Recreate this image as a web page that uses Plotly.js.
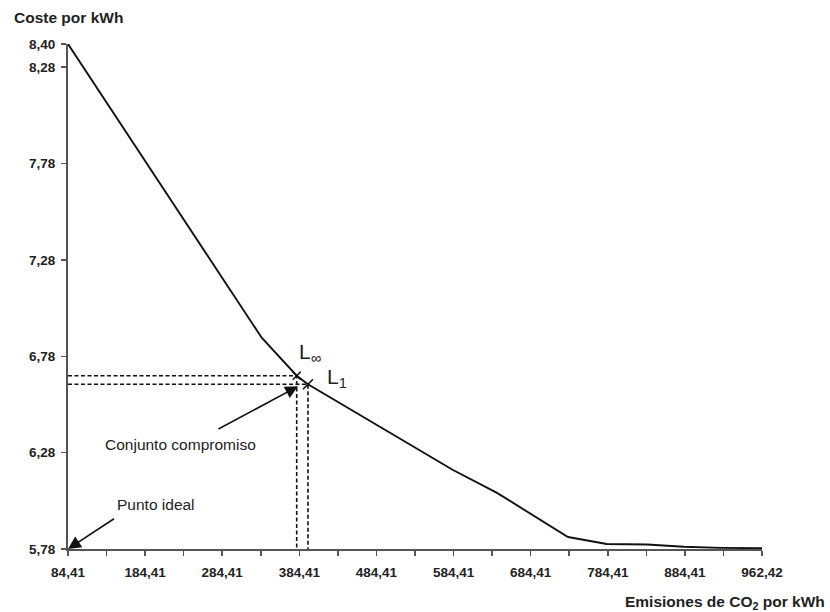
<!DOCTYPE html>
<html>
<head>
<meta charset="utf-8">
<script src="https://cdn.plot.ly/plotly-3.0.1.min.js"></script>
<style>html,body{margin:0;padding:0;background:#fff;}#chart{width:830px;height:612px;}</style>
</head>
<body>
<div id="chart"></div>
<script>
// Frontier curve (emissions vs cost)
const emisiones = [84.41, 335.6, 381.0, 395.6, 583.7, 640.8, 732.8, 783.0, 835.3, 883.0, 931.0, 984.41];
const coste     = [8.40, 6.876, 6.679, 6.635, 6.190, 6.071, 5.842, 5.806, 5.803, 5.792, 5.786, 5.784];

// Compromise set points
const puntoLinf = [381.0, 6.679];
const puntoL1   = [395.6, 6.635];
const puntoIdeal = [84.41, 5.78];

// Axis ticks
const xTickVals = [84.41, 134.41, 184.41, 234.41, 284.41, 334.41, 384.41, 434.41, 484.41, 534.41,
                   584.41, 634.41, 684.41, 734.41, 784.41, 834.41, 884.41, 934.41, 984.41];
const xTickText = ["84,41", "", "184,41", "", "284,41", "", "384,41", "", "484,41", "",
                   "584,41", "", "684,41", "", "784,41", "", "884,41", "", "962,42"];
const yTickVals = [5.78, 6.28, 6.78, 7.28, 7.78, 8.28, 8.40];
const yTickText = ["5,78", "6,28", "6,78", "7,28", "7,78", "8,28", "8,40"];

const xMin = 84.41, xMax = 984.41, yMin = 5.78, yMax = 8.40;
const FONT = '"Liberation Sans", Arial, sans-serif';
const INK = '#222';

function dashTrace(p) {
  return {
    x: [xMin, p[0], p[0]], y: [p[1], p[1], yMin],
    mode: 'lines', line: {color: '#111', width: 1.6, dash: '4px,2.5px'},
    hoverinfo: 'skip', showlegend: false, cliponaxis: false
  };
}

const traces = [
  dashTrace(puntoLinf),
  dashTrace(puntoL1),
  {
    x: emisiones, y: coste, mode: 'lines',
    line: {color: '#111', width: 1.9},
    showlegend: false, cliponaxis: false
  },
  {
    x: [puntoLinf[0]], y: [puntoLinf[1]], mode: 'markers',
    marker: {symbol: 'x-thin', size: 8, line: {color: '#111', width: 1.6}},
    showlegend: false, cliponaxis: false
  },
  {
    x: [puntoL1[0]], y: [puntoL1[1]], mode: 'markers',
    marker: {symbol: 'line-ne', size: 10, line: {color: '#111', width: 1.6}},
    showlegend: false, cliponaxis: false
  }
];

const layout = {
  width: 830, height: 612,
  margin: {l: 68, r: 68, t: 44, b: 63},
  paper_bgcolor: '#fff', plot_bgcolor: '#fff',
  font: {family: FONT, color: INK},
  showlegend: false,
  xaxis: {
    range: [xMin, xMax], showgrid: false, zeroline: false,
    showline: true, linecolor: '#555', linewidth: 2,
    tickmode: 'array', tickvals: xTickVals, ticktext: xTickText,
    ticks: 'outside', ticklen: 5, tickwidth: 1.5, tickcolor: '#555',
    tickfont: {family: FONT, size: 13.5, color: INK, weight: 'bold'},
    ticklabelstandoff: 5
  },
  yaxis: {
    range: [yMin, yMax], showgrid: false, zeroline: false,
    showline: true, linecolor: '#555', linewidth: 2,
    tickmode: 'array', tickvals: yTickVals, ticktext: yTickText,
    ticks: 'outside', ticklen: 5, tickwidth: 1.5, tickcolor: '#555',
    tickfont: {family: FONT, size: 13.5, color: INK, weight: 'bold'},
    ticklabelstandoff: 3
  },
  annotations: [
    {xref: 'paper', yref: 'paper', x: -0.0807, y: 1.0515, xanchor: 'left', yanchor: 'middle',
     text: '<b>Coste por kWh</b>', showarrow: false, font: {size: 15.5, color: INK}},
    {xref: 'paper', yref: 'paper', x: 1.0937, y: -0.105, xanchor: 'right', yanchor: 'middle',
     text: '<b>Emisiones de CO<sub>2</sub> por kWh</b>', showarrow: false, font: {size: 15.5, color: INK}},
    {x: puntoLinf[0], y: puntoLinf[1], xref: 'x', yref: 'y', text: 'L<sub>∞</sub>',
     showarrow: false, xanchor: 'left', yanchor: 'bottom', xshift: 0, yshift: 8,
     font: {size: 21, color: INK}},
    {x: puntoL1[0], y: puntoL1[1], xref: 'x', yref: 'y', text: 'L<sub>1</sub>',
     showarrow: false, xanchor: 'left', yanchor: 'bottom', xshift: 17, yshift: -9,
     font: {size: 21, color: INK}},
    {x: 382.7, y: 6.624, ax: 277.6, ay: 6.398, xref: 'x', yref: 'y', axref: 'x', ayref: 'y',
     text: '', showarrow: true, arrowhead: 2, arrowsize: 1.6, arrowwidth: 1.6, arrowcolor: '#111'},
    {x: 129.8, y: 6.32, xref: 'x', yref: 'y', text: 'Conjunto compromiso', showarrow: false,
     xanchor: 'left', yanchor: 'middle', font: {size: 15.5, color: INK}},
    {x: puntoIdeal[0], y: puntoIdeal[1], ax: 146, ay: 5.942, xref: 'x', yref: 'y', axref: 'x', ayref: 'y',
     text: '', showarrow: true, arrowhead: 2, arrowsize: 1.6, arrowwidth: 1.6, arrowcolor: '#111'},
    {x: 145, y: 6.01, xref: 'x', yref: 'y', text: 'Punto ideal', showarrow: false,
     xanchor: 'left', yanchor: 'middle', font: {size: 15.5, color: INK}}
  ]
};

Plotly.newPlot('chart', traces, layout, {displayModeBar: false, staticPlot: true});
</script>
</body>
</html>
